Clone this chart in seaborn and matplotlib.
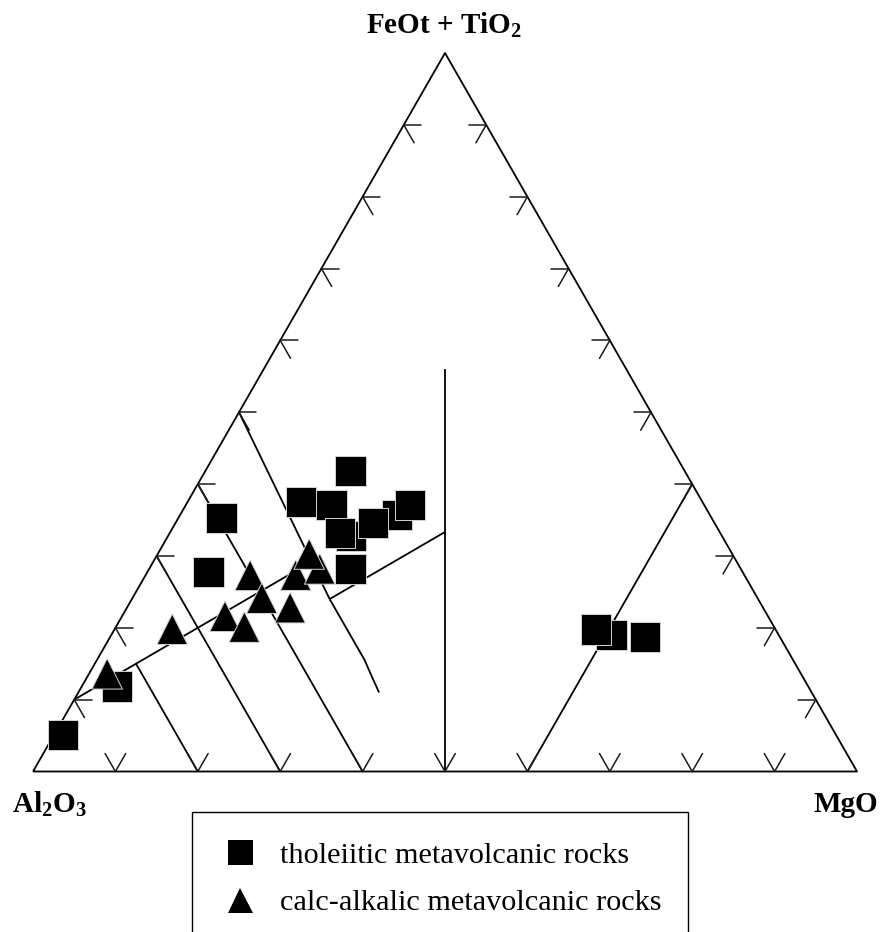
import numpy as np
import pandas as pd
import matplotlib
matplotlib.use("Agg")
import matplotlib.pyplot as plt
from matplotlib.lines import Line2D
import seaborn as sns

# Sample compositions in percent: Al2O3, FeOt + TiO2, MgO
thol_al = [93.8, 83.8, 59.5, 64.9, 40.6, 48.7, 45.2, 45.0, 46.2, 47.4, 38.0, 41.5, 35.7, 20.3, 21.8, 16.4]
thol_fe = [5.1, 11.8, 35.3, 27.8, 41.8, 37.5, 37.1, 32.8, 33.2, 28.2, 35.7, 34.6, 37.1, 19.0, 19.8, 18.7]
thol_mg = [1.1, 4.3, 5.2, 7.4, 17.6, 13.8, 17.7, 22.2, 20.7, 24.4, 26.3, 24.0, 27.2, 60.7, 58.4, 64.9]

calc_al = [84.2, 73.2, 65.9, 64.3, 60.0, 60.1, 57.4, 54.4, 51.1, 51.4]
calc_fe = [13.6, 19.8, 21.6, 20.1, 27.3, 24.1, 22.8, 27.3, 28.2, 30.3]
calc_mg = [2.2, 7.0, 12.5, 15.6, 12.7, 15.7, 19.8, 18.2, 20.7, 18.4]

series_labels = ["tholeiitic metavolcanic rocks", "calc-alkalic metavolcanic rocks"]
apex_labels = [r"Al$_\mathbf{2}$O$_\mathbf{3}$", r"FeOt + TiO$_\mathbf{2}$", "MgO"]

# Field boundaries of the cation diagram, vertices as (Al2O3, FeOt+TiO2, MgO)
field_lines = [
    [(50, 0, 50), (22, 56, 22)],
    [(40, 0, 60), (0, 40, 60)],
    [(70, 30, 0), (70, 0, 30)],
    [(60, 40, 0), (60, 0, 40)],
    [(80, 0, 20), (80, 15, 5)],
    [(90, 10, 0), (51.6, 29.2, 19.2)],
    [(50, 50, 0), (52, 24, 24)],
    [(52, 24, 24), (33.33, 33.33, 33.33)],
    [(52, 24, 24), (52, 15.5, 32.5), (52.3, 13, 34.7), (52.5, 11, 36.5)],
]
tick_steps = [10, 20, 30, 40, 50, 60, 70, 80, 90]


def tern_xy(al, fe, mg):
    al, fe, mg = (np.asarray(v, dtype=float) for v in (al, fe, mg))
    tot = al + fe + mg
    t = fe / tot
    m = mg / tot
    return m + t / 2.0, t


sns.set_theme(style="white")
plt.rcParams["font.family"] = ["Liberation Serif", "DejaVu Serif"]
plt.rcParams["text.color"] = "black"
plt.rcParams["mathtext.fontset"] = "custom"
plt.rcParams["mathtext.rm"] = "Liberation Serif"
plt.rcParams["mathtext.bf"] = "Liberation Serif:bold"

fig = plt.figure(figsize=(8.81, 9.32), dpi=100)
ax = fig.add_axes([0, 0, 1, 1])
ax.set_xlim(-33 / 824, 848 / 824)
ax.set_ylim((771.5 - 932) / 718.5, 771.5 / 718.5)
ax.axis("off")

line_kw = dict(color="black", lw=1.3, solid_capstyle="butt", zorder=1)

# triangle outline
ox, oy = tern_xy([100, 0, 0, 100], [0, 0, 100, 0], [0, 100, 0, 0])
ax.plot(ox, oy, **line_kw)

# field boundaries
for seg in field_lines:
    a, f, m = zip(*seg)
    x, y = tern_xy(a, f, m)
    ax.plot(x, y, **line_kw)

# edge ticks: short stubs of the grid lines meeting each edge
h, s = 2.1, 2.5
tick_kw = dict(color="#1a1a1a", lw=1.1, zorder=1)
for k in tick_steps:
    stubs = [
        # left edge (Al2O3 - FeOt side)
        [(100 - k, k, 0), (100 - k - h, k, h)],
        [(100 - k, k, 0), (100 - k, k - s, s)],
        # right edge (MgO - FeOt side)
        [(0, k, 100 - k), (h, k, 100 - k - h)],
        [(0, k, 100 - k), (s, k - s, 100 - k)],
        # base (Al2O3 - MgO side)
        [(100 - k, 0, k), (100 - k, s, k - s)],
        [(100 - k, 0, k), (100 - k - s, s, k)],
    ]
    for seg in stubs:
        a, f, m = zip(*seg)
        x, y = tern_xy(a, f, m)
        ax.plot(x, y, **tick_kw)

# sample points
tx, ty = tern_xy(thol_al, thol_fe, thol_mg)
cx, cy = tern_xy(calc_al, calc_fe, calc_mg)
df = pd.DataFrame({
    "x": np.concatenate([tx, cx]),
    "y": np.concatenate([ty, cy]),
    "group": [series_labels[0]] * len(tx) + [series_labels[1]] * len(cx),
})
sns.scatterplot(
    data=df, x="x", y="y", style="group",
    markers={series_labels[0]: "s", series_labels[1]: "^"},
    color="black", s=484, edgecolor="#d4d4d4", linewidth=0.7,
    legend=False, ax=ax, zorder=3,
)

# apex labels
lab_kw = dict(fontsize=21, fontweight="bold", family="Liberation Serif",
              va="baseline", color="black")
fig.text(49.5 / 881, 1 - 812 / 932, apex_labels[0], ha="center", **lab_kw)
fig.text(444 / 881, 1 - 33 / 932, apex_labels[1], ha="center", **lab_kw)
fig.text(845.5 / 881, 1 - 812 / 932, apex_labels[2], ha="center", **lab_kw)

# legend
handles = [
    Line2D([0], [0], marker="s", color="black", linestyle="none", markersize=18, markeredgewidth=0),
    Line2D([0], [0], marker="^", color="black", linestyle="none", markersize=18, markeredgewidth=0),
]
leg = ax.legend(
    handles, series_labels, loc="upper left",
    bbox_to_anchor=(192 / 881, 1 - 812 / 932, (688 - 192) / 881, 0),
    bbox_transform=fig.transFigure, mode="expand", borderaxespad=0,
    frameon=True, fancybox=False, framealpha=1, edgecolor="black",
    fontsize=21.8, borderpad=0.97, labelspacing=0.68,
    handlelength=1.2, handletextpad=0.72, labelcolor="black",
)
leg.get_frame().set_linewidth(1.0)

fig.savefig("out.png", dpi=100)
